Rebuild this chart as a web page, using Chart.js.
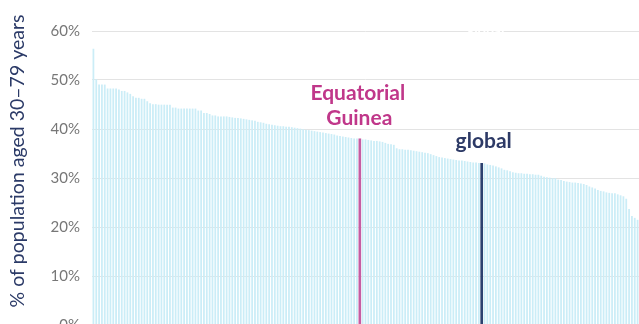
<!DOCTYPE html>
<html>
<head>
<meta charset="utf-8">
<script src="https://cdn.jsdelivr.net/npm/chart.js@4"></script>
<style>
  html, body { margin: 0; padding: 0; background: #fff; overflow: hidden; }
  #wrap { width: 639px; height: 346px; }
</style>
</head>
<body>
<div id="wrap"><canvas id="hypertensionChart" width="639" height="346"></canvas></div>
<script>
// prevalence of hypertension, % of population aged 30-79, countries sorted high -> low
const values = [
  56.3, 50.1, 49.0, 49.0, 49.0, 48.2, 48.2, 48.2, 48.2, 48.0,
  47.7, 47.7, 47.4, 47.1, 46.6, 46.3, 46.3, 46.1, 46.1, 45.6,
  45.2, 45.0, 45.0, 44.9, 44.9, 44.9, 44.9, 44.9, 44.3, 44.3,
  44.1, 44.1, 44.1, 44.1, 44.1, 44.1, 44.1, 43.7, 43.7, 43.2,
  43.2, 43.0, 42.7, 42.7, 42.5, 42.5, 42.5, 42.5, 42.4, 42.3,
  42.2, 42.2, 42.1, 42.0, 41.9, 41.8, 41.7, 41.6, 41.4, 41.3,
  41.2, 41.0, 40.9, 40.8, 40.7, 40.6, 40.5, 40.5, 40.4, 40.4,
  40.3, 40.2, 40.1, 40.0, 39.9, 39.8, 39.7, 39.6, 39.5, 39.4,
  39.3, 39.2, 39.1, 39.0, 38.9, 38.8, 38.6, 38.5, 38.4, 38.3,
  38.2, 38.1, 38.0, 38.0, 38.0, 37.8, 37.8, 37.7, 37.6, 37.5,
  37.5, 37.4, 37.3, 37.1, 36.9, 36.8, 36.7, 36.0, 35.8, 35.8,
  35.7, 35.7, 35.6, 35.5, 35.4, 35.3, 35.2, 35.1, 35.0, 34.8,
  34.6, 34.4, 34.2, 34.1, 34.0, 33.9, 33.8, 33.7, 33.6, 33.5,
  33.5, 33.4, 33.3, 33.2, 33.1, 33.1, 33.0, 33.0, 32.9, 32.7,
  32.6, 32.5, 32.3, 32.1, 31.9, 31.6, 31.5, 31.3, 31.1, 31.0,
  30.9, 30.9, 30.8, 30.8, 30.7, 30.7, 30.6, 30.6, 30.4, 30.2,
  30.1, 30.0, 29.9, 29.9, 29.6, 29.5, 29.3, 29.2, 29.1, 29.0,
  29.0, 28.9, 28.8, 28.7, 28.5, 28.2, 28.0, 27.8, 27.5, 27.3,
  27.2, 27.0, 26.9, 26.8, 26.8, 26.6, 26.4, 26.2, 25.7, 23.6,
  22.2, 21.8, 21.4
];

const highlightIndex = 94;   // Equatorial Guinea
const globalIndex = 137;     // global average
const highlightName = ['Equatorial', 'Guinea'];
const globalName = 'global';
const yTicks = [0, 10, 20, 30, 40, 50, 60];
const axisTitle = '% of population aged 30–79 years';

const labels = values.map((v, i) => {
  if (i === highlightIndex) return 'Equatorial Guinea';
  if (i === globalIndex) return 'global';
  return 'country ' + (i + 1);
});

const otherData = values.map((v, i) => (i === highlightIndex || i === globalIndex) ? null : v);
const markedData = values.map((v, i) => (i === highlightIndex || i === globalIndex) ? v : null);
const markedColors = values.map((v, i) => i === highlightIndex ? '#c65ca2' : '#2c416f');

const labelPlugin = {
  id: 'labelPlugin',
  afterDraw(chart) {
    const ctx = chart.ctx;
    const x = chart.scales.x;
    const y = chart.scales.y;
    ctx.save();

    // hidden white label at the top
    ctx.fillStyle = '#ffffff';
    ctx.font = 'bold 14px Lato';
    ctx.textAlign = 'center';
    ctx.textBaseline = 'middle';
    ctx.fillText(globalName, x.getPixelForValue(globalIndex) + 4, y.getPixelForValue(60) - 1);

    ctx.textBaseline = 'alphabetic';
    ctx.font = 'bold 21px Lato';
    ctx.fillStyle = '#c0378a';
    const hx = x.getPixelForValue(highlightIndex);
    const hy = y.getPixelForValue(values[highlightIndex]);
    ctx.fillText(highlightName[0], hx - 2, hy - 39);
    ctx.fillText(highlightName[1], hx - 0.5, hy - 14);

    ctx.fillStyle = '#2d3a66';
    const gx = x.getPixelForValue(globalIndex);
    const gy = y.getPixelForValue(values[globalIndex]);
    ctx.fillText(globalName, gx + 2, gy - 15);

    // axis title
    ctx.fillStyle = '#2b3a67';
    ctx.font = '19.5px Lato';
    ctx.translate(18, 161);
    ctx.rotate(-Math.PI / 2);
    ctx.textBaseline = 'middle';
    ctx.fillText(axisTitle, 0, 0);
    ctx.restore();
  }
};

window.addEventListener('load', () => {
  const ctx = document.getElementById('hypertensionChart').getContext('2d');
  new Chart(ctx, {
    type: 'bar',
    data: {
      labels: labels,
      datasets: [{
        data: otherData,
        backgroundColor: '#cbedf7',
        barThickness: 1.1,
        grouped: false
      }, {
        data: markedData,
        backgroundColor: markedColors,
        barThickness: 2,
        grouped: false
      }]
    },
    options: {
      responsive: false,
      animation: false,
      layout: { padding: { top: 31, left: 0, right: 0, bottom: 0 } },
      plugins: {
        legend: { display: false },
        tooltip: { enabled: false }
      },
      scales: {
        x: {
          display: false
        },
        y: {
          min: 0,
          max: 60,
          afterFit(scale) { scale.width = 92; },
          afterBuildTicks(scale) { scale.ticks = yTicks.map(v => ({ value: v })); },
          border: { display: false },
          grid: { color: '#e3e3e3', lineWidth: 1, drawTicks: false },
          ticks: {
            padding: 12,
            color: '#777777',
            font: { family: 'Lato', size: 15 },
            callback: v => v + '%'
          }
        }
      }
    },
    plugins: [labelPlugin]
  });
});
</script>
</body>
</html>
